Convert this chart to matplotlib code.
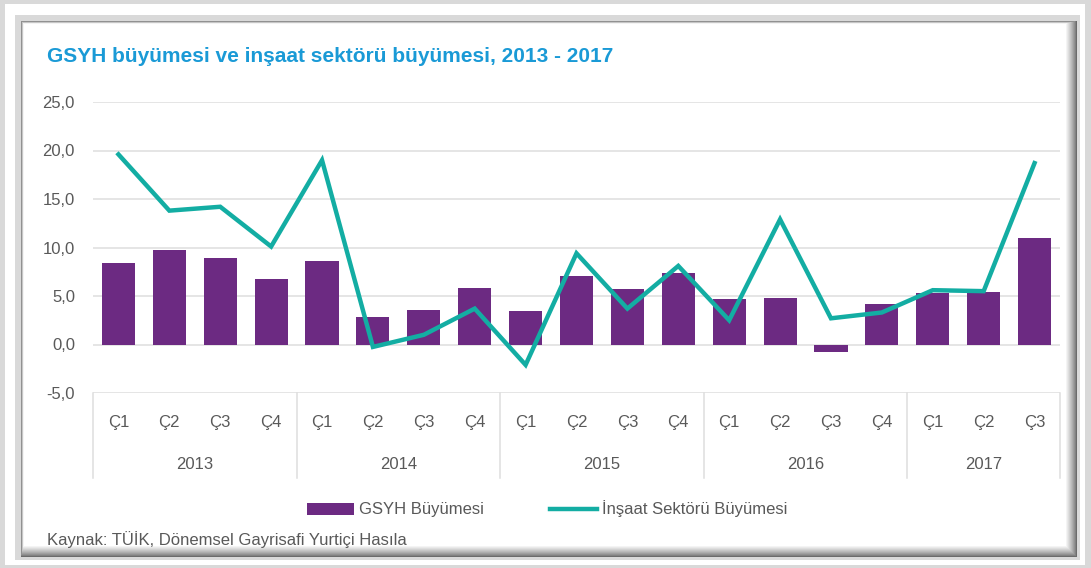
import matplotlib
matplotlib.use("Agg")
import matplotlib.pyplot as plt
import matplotlib.patches as patches
from matplotlib.lines import Line2D
import numpy as np

# Data
years = ["2013", "2014", "2015", "2016", "2017"]
quarters_per_year = [4, 4, 4, 4, 3]
quarter_labels = ["Ç1", "Ç2", "Ç3", "Ç4"]
gsyh = [8.4, 9.7, 8.9, 6.8, 8.6, 2.8, 3.6, 5.8, 3.5, 7.1, 5.7, 7.4,
        4.7, 4.8, -0.8, 4.2, 5.3, 5.4, 11.0]
insaat = [19.6, 13.8, 14.2, 10.1, 19.0, -0.25, 1.0, 3.7, -2.1, 9.4, 3.7, 8.1,
          2.5, 12.9, 2.7, 3.3, 5.6, 5.5, 18.7]
yticks = [-5, 0, 5, 10, 15, 20, 25]

W, H = 1091, 568
PURPLE = "#6c2a82"
TEAL = "#13ada3"
TXT = "#595959"
GRID = "#dedede"
FONT = "Liberation Sans"
FS = 12

plt.rcParams["font.family"] = [FONT, "DejaVu Sans"]

fig = plt.figure(figsize=(W / 100, H / 100), dpi=100)
fig.patch.set_facecolor("#d9d9d9")


def px_rect(x0, y0, x1, y1, color, z):
    # rectangle given in pixel coords (top-left origin)
    r = patches.Rectangle((x0 / W, 1 - y1 / H), (x1 - x0) / W, (y1 - y0) / H,
                          transform=fig.transFigure, facecolor=color,
                          edgecolor="none", zorder=z)
    fig.add_artist(r)


# frame
px_rect(5, 4, 1085, 565, "white", -10)
px_rect(15, 15, 1080, 560, "#d9d9d9", -9.9)
n = 12
for k in range(n):
    t = k / (n - 1)
    c = 0.42 + 0.58 * t ** 0.8
    px_rect(21 + 2.5 * t, 21 + 2.5 * t, 1077 - k, 557 - k, (c, c, c), -9.8 + k * 0.01)
px_rect(24, 24, 1065, 545, "white", -9.5)

# axes
ax = fig.add_axes([93 / W, 1 - 393 / H, (1060 - 93) / W, (393 - 102) / H])
ax.set_facecolor("none")
x = np.arange(len(gsyh))
ax.bar(x, gsyh, width=0.65, color=PURPLE, zorder=2)
ax.plot(x, insaat, color=TEAL, lw=3.2, zorder=3, solid_joinstyle="miter")

ax.set_xlim(-0.5, len(gsyh) - 0.5)
ax.set_ylim(-5, 25)
ax.set_yticks(yticks)
ax.set_yticklabels([f"{v:.1f}".replace(".", ",") for v in yticks],
                   fontsize=FS, color=TXT)
ax.tick_params(axis="y", length=0, pad=13)
ax.set_xticks([])
ax.grid(axis="y", color=GRID, lw=1.1, zorder=0)
for s in ax.spines.values():
    s.set_visible(False)

# multi-level category axis
trans = ax.get_xaxis_transform()
i = 0
bounds = [-0.5]
for yr, nq in zip(years, quarters_per_year):
    for q in range(nq):
        ax.text(i + q, -0.1, quarter_labels[q], transform=trans, ha="center",
                va="center", fontsize=FS, color=TXT)
    ax.text(i + (nq - 1) / 2, -0.247, yr, transform=trans, ha="center",
            va="center", fontsize=FS, color=TXT)
    i += nq
    bounds.append(i - 0.5)
for b in bounds:
    ax.add_line(Line2D([b, b], [0, -0.292], transform=trans, color=GRID,
                       lw=1.1, clip_on=False))

# legend
handles = [patches.Patch(facecolor=PURPLE, edgecolor="none"),
           Line2D([], [], color=TEAL, lw=3.2)]
fig.legend(handles, ["GSYH Büyümesi", "İnşaat Sektörü Büyümesi"],
           loc="center", bbox_to_anchor=(547 / W, 1 - 509 / H), ncol=2,
           frameon=False, fontsize=FS, labelcolor=TXT, handlelength=2.8,
           handleheight=0.75, handletextpad=0.3, columnspacing=4.0)

fig.text(47 / W, 1 - 57 / H, "GSYH büyümesi ve inşaat sektörü büyümesi, 2013 - 2017",
         fontsize=15, fontweight="bold", color="#1a9ad6", va="center", ha="left")
fig.text(47 / W, 1 - 540 / H, "Kaynak: TÜİK, Dönemsel Gayrisafi Yurtiçi Hasıla",
         fontsize=FS, color=TXT, va="center", ha="left")

fig.savefig("out.png", dpi=100, facecolor=fig.get_facecolor())
